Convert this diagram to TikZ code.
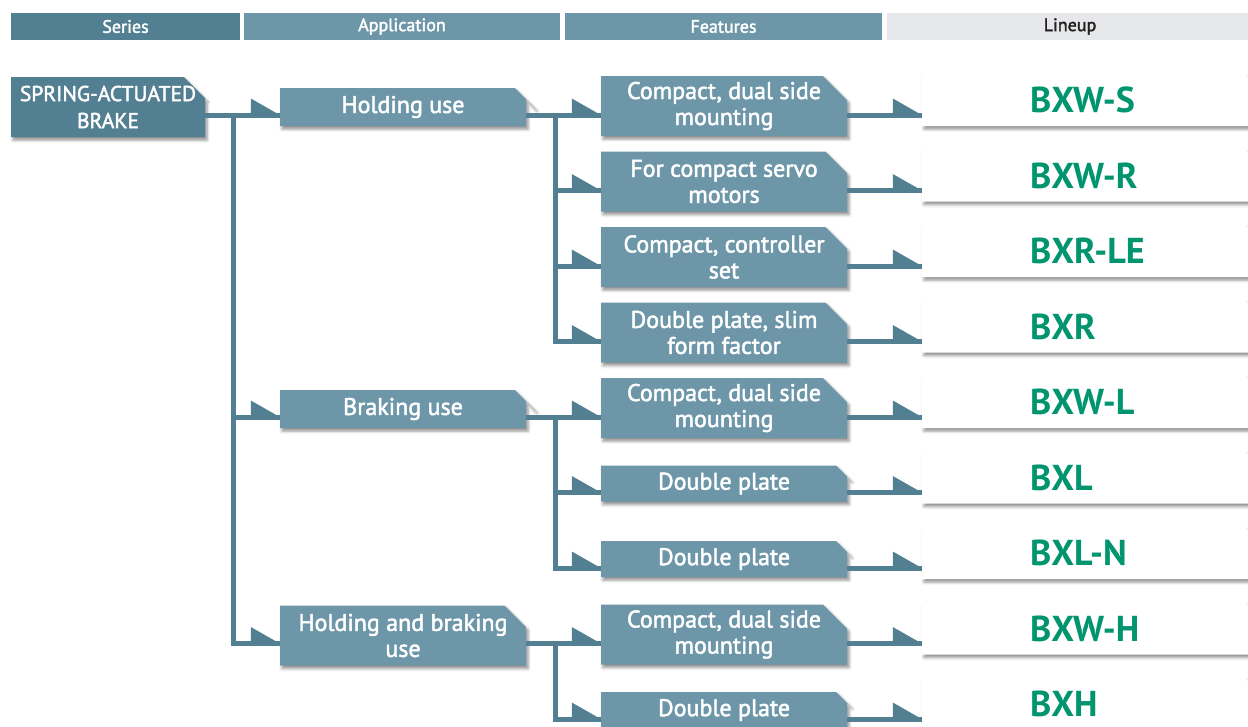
\documentclass[tikz,border=0pt]{standalone}
\usepackage{fontspec}
\setmainfont{PT Sans}
\newfontfamily\boxfont{PT Sans}[FakeBold=2]
\usetikzlibrary{shapes.misc,shadows.blur}

\definecolor{tealdark}{HTML}{527F91}
\definecolor{teallight}{HTML}{6D97A9}
\definecolor{headgray}{HTML}{E6E7E9}
\definecolor{modelgreen}{HTML}{00956F}
\definecolor{inkgray}{HTML}{231F20}

% flag-shaped head sitting on a link where it meets a box
\newcommand\flag[1]{\fill[tealdark] (#1) -- ++(-29pt,16.5pt) -- ++(0,-19pt) -- cycle;}

\tikzset{
  head/.style={minimum width=#1, minimum height=27pt, inner sep=0pt,
    fill=teallight, text=white, font=\boxfont\fontsize{18}{20}\selectfont},
  cut/.style n args={2}{chamfered rectangle xsep=#1, chamfered rectangle ysep=#2,
    inner xsep=-#1, inner ysep=-#2},
  block/.style={chamfered rectangle, chamfered rectangle corners=north east,
    cut={17pt}{20pt}, minimum width=246pt, minimum height=38pt,
    fill=teallight, text=white, align=center,
    font=\boxfont\fontsize{24}{26}\selectfont,
    blur shadow={shadow xshift=2pt, shadow yshift=-3pt,
      shadow blur radius=3pt, shadow opacity=45}},
  tall/.style={minimum height=60pt},
  flat/.style={minimum height=36pt, cut={18pt}{14pt}},
  model/.style={block, cut={30pt}{21pt}, fill=white, text=modelgreen,
    minimum width=336pt, minimum height=52pt, text width=120pt, align=left,
    font=\fontsize{36}{40}\selectfont\bfseries},
  link/.style={draw=tealdark, line width=5pt},
}

\begin{document}
\begin{tikzpicture}[x=1pt, y=-1pt]
  \path[use as bounding box, clip] (0,0) rectangle (1248,726);

  % column headers
  \node[head=229pt, fill=tealdark] (hseries) at (125.5,26.5) {Series};
  \node[head=316pt] (happ) at (402,26.5) {Application};
  \node[head=317pt] (hfeat) at (723.5,26.5) {Features};
  \node[head=366pt, fill=headgray, text=inkgray] (hlineup) at (1070,26.5) {Lineup};

  % series and applications
  \node[block, tall, cut={18pt}{22pt}, fill=tealdark, minimum width=194pt,
    font=\boxfont\fontsize{21.5}{27}\selectfont] (spring) at (108,107) {SPRING-ACTUATED\\BRAKE};
  \node[block] (hold) at (403,107) {Holding use};
  \node[block] (brake) at (403,409) {Braking use};
  \node[block, tall] (both) at (403,635.5) {Holding and braking\\use};

  % features
  \node[block, tall] (fdualS) at (724,106) {Compact, dual side\\mounting};
  \node[block, tall] (fservo) at (724,181.5) {For compact servo\\motors};
  \node[block, tall] (fctrl) at (724,257) {Compact, controller\\set};
  \node[block, tall] (fslim) at (724,332.5) {Double plate, slim\\form factor};
  \node[block, tall] (fdualL) at (724,408) {Compact, dual side\\mounting};
  \node[block, flat] (fplateL) at (724,483.5) {Double plate};
  \node[block, flat] (fplateN) at (724,559) {Double plate};
  \node[block, tall] (fdualH) at (724,634.5) {Compact, dual side\\mounting};
  \node[block, flat] (fplateH) at (724,710) {Double plate};

  % lineup
  \node[model] (bxws) at (1090,100) {BXW-S};
  \node[model] (bxwr) at (1090,175.5) {BXW-R};
  \node[model] (bxrle) at (1090,251) {BXR-LE};
  \node[model] (bxr) at (1090,326.5) {BXR};
  \node[model] (bxwl) at (1090,402) {BXW-L};
  \node[model] (bxl) at (1090,477.5) {BXL};
  \node[model] (bxln) at (1090,553) {BXL-N};
  \node[model] (bxwh) at (1090,628.5) {BXW-H};
  \node[model] (bxh) at (1090,704) {BXH};

  % series -> applications
  \coordinate (t1) at (233,115);
  \draw[link] ([yshift=-8pt]spring.east) -- (t1);
  \foreach \n in {hold,brake,both} {
    \draw[link] (t1) |- ([yshift=-8pt]\n.west) coordinate (tip);
    \flag{tip}
  }

  % applications -> features
  \coordinate (t2) at (555,115);
  \coordinate (t3) at (555,417);
  \coordinate (t4) at (555,643.5);
  \draw[link] ([yshift=-8pt]hold.east) -- (t2);
  \draw[link] ([yshift=-8pt]brake.east) -- (t3);
  \draw[link] ([yshift=-8pt]both.east) -- (t4);
  \foreach \t/\n in {t2/fdualS,t2/fservo,t2/fctrl,t2/fslim,
      t3/fdualL,t3/fplateL,t3/fplateN,t4/fdualH,t4/fplateH} {
    \draw[link] (\t) |- ([yshift=-9pt]\n.west) coordinate (tip);
    \flag{tip}
  }

  % features -> lineup
  \foreach \f/\m in {fdualS/bxws,fservo/bxwr,fctrl/bxrle,fslim/bxr,fdualL/bxwl,
      fplateL/bxl,fplateN/bxln,fdualH/bxwh,fplateH/bxh} {
    \draw[link] ([yshift=-9pt]\f.east) -- ([yshift=-15pt]\m.west) coordinate (tip);
    \flag{tip}
  }
\end{tikzpicture}
\end{document}
